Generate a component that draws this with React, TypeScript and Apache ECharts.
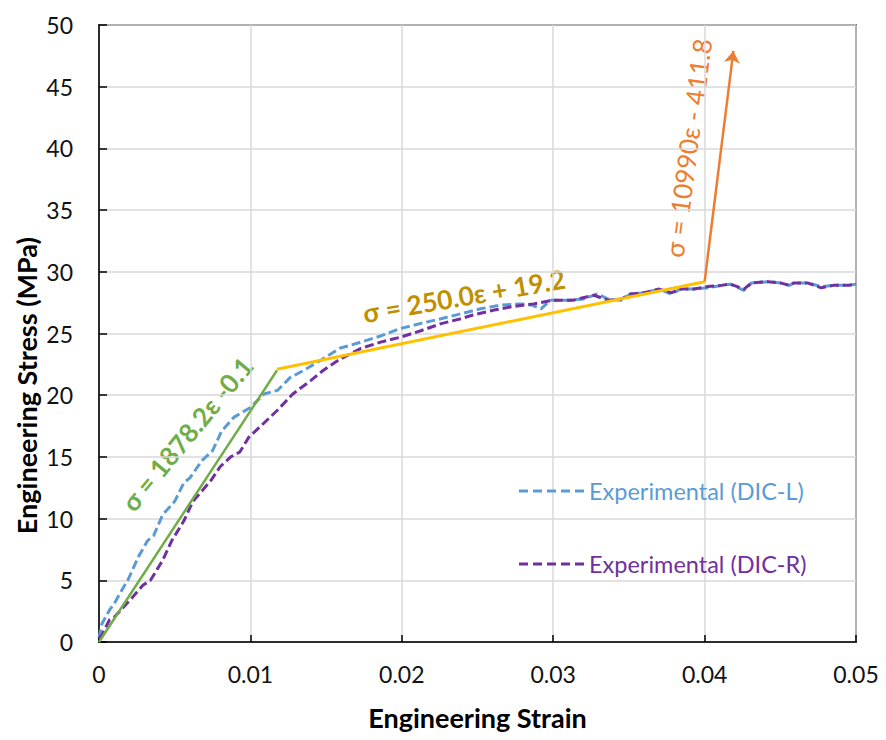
import React, { useEffect, useRef } from "react";
import * as echarts from "echarts";

const xTicks = [0, 0.01, 0.02, 0.03, 0.04, 0.05];
const yTicks = [0, 5, 10, 15, 20, 25, 30, 35, 40, 45, 50];

const dicL: number[][] = [
  [0, 0.3], [0.0002, 1.5], [0.0007, 2.6], [0.001, 3.1], [0.0016, 4.4], [0.0019, 5.0], [0.0026, 6.9],
  [0.0032, 8.2], [0.0036, 8.6], [0.0042, 10.3], [0.005, 11.4], [0.0056, 12.9], [0.006, 13.3],
  [0.0068, 14.7], [0.0075, 15.5], [0.0081, 17.1], [0.0089, 18.2], [0.01, 19.0], [0.0109, 20.1],
  [0.0118, 20.4], [0.0126, 21.4], [0.0135, 22.0], [0.0146, 22.8], [0.0159, 23.8], [0.0173, 24.3],
  [0.0186, 24.8], [0.0199, 25.4], [0.0212, 25.8], [0.0226, 26.2], [0.0239, 26.6], [0.0252, 27.0],
  [0.0265, 27.3], [0.0278, 27.4], [0.0286, 27.3], [0.0292, 27.0], [0.0298, 27.7], [0.031, 27.7],
  [0.032, 27.8], [0.0329, 28.2], [0.0336, 27.8], [0.0345, 27.7], [0.0351, 28.2], [0.036, 28.3],
  [0.037, 28.6], [0.0378, 28.2], [0.0384, 28.6], [0.0393, 28.6], [0.0402, 28.7], [0.0411, 28.9],
  [0.0417, 29.0], [0.0426, 28.5], [0.0431, 29.1], [0.0442, 29.2], [0.045, 29.1], [0.0456, 28.9],
  [0.0459, 29.1], [0.0468, 29.1], [0.0477, 28.8], [0.0485, 28.9], [0.0495, 28.9], [0.05, 29.0],
];

const dicR: number[][] = [
  [0, 0.3], [0.0002, 0.6], [0.0007, 1.8], [0.001, 2.0], [0.0016, 2.8], [0.0022, 3.6], [0.0029, 4.6],
  [0.0034, 5.0], [0.0042, 6.6], [0.0048, 8.2], [0.0056, 9.8], [0.0062, 11.4], [0.0067, 12.1],
  [0.0074, 13.1], [0.008, 14.2], [0.0087, 15.0], [0.0093, 15.4], [0.0099, 16.6], [0.0106, 17.4],
  [0.0118, 18.8], [0.0128, 20.1], [0.014, 21.2], [0.0148, 22.0], [0.0159, 22.9], [0.0173, 23.8],
  [0.0186, 24.3], [0.0199, 24.7], [0.0212, 25.2], [0.0226, 25.8], [0.0239, 26.2], [0.0247, 26.5],
  [0.0261, 26.9], [0.0274, 27.2], [0.0287, 27.4], [0.03, 27.7], [0.0313, 27.7], [0.0327, 28.1],
  [0.0336, 27.7], [0.0345, 27.8], [0.0351, 28.2], [0.036, 28.3], [0.037, 28.6], [0.0378, 28.3],
  [0.0384, 28.6], [0.0393, 28.6], [0.0402, 28.8], [0.0411, 28.9], [0.0417, 29.0], [0.0426, 28.6],
  [0.0431, 29.1], [0.0442, 29.2], [0.045, 29.1], [0.0456, 28.9], [0.0459, 29.1], [0.0468, 29.1],
  [0.0477, 28.7], [0.0485, 28.9], [0.0495, 28.9], [0.05, 29.0],
];

const fitElastic: number[][] = [[0, 0], [0.01175, 22.0]];
const fitPlastic: number[][] = [[0.01175, 22.1], [0.04, 29.2]];
const fitFracture: number[][] = [[0.04, 29.2], [0.0419, 47.9]];

const seriesNames = ["Experimental (DIC-L)", "Experimental (DIC-R)"];
const eqElastic = "σ = 1878.2ε -0.1";
const eqPlastic = "σ = 250.0ε + 19.2";
const eqFracture = "σ = 10990ε - 411.8";

const FONT = "Lato, 'Open Sans', sans-serif";
const DASH_ICON =
  "path://M0 0h9v3h-9z M14 0h9v3h-9z M28 0h9v3h-9z M42 0h9v3h-9z M56 0h9v3h-9z";

export default function App() {
  const ref = useRef<HTMLDivElement>(null);
  useEffect(() => {
    if (!ref.current) return;
    const chart = echarts.init(ref.current, undefined, { renderer: "svg" });
    const deg = Math.PI / 180;
    chart.setOption({
      animation: false,
      backgroundColor: "#fff",
      grid: {
        left: 99, right: 30, top: 25, bottom: 98,
        show: true, borderColor: "#000", borderWidth: 1.5,
      },
      legend: [
        {
          data: [{ name: seriesNames[0], icon: DASH_ICON, textStyle: { color: "#5B9BD5" } }],
          left: 519, top: 479, padding: 0, itemWidth: 65, itemHeight: 3,
          textStyle: { fontFamily: FONT, fontSize: 23.5 },
        },
        {
          data: [{ name: seriesNames[1], icon: DASH_ICON, textStyle: { color: "#7030A0" } }],
          left: 519, top: 552, padding: 0, itemWidth: 65, itemHeight: 3,
          textStyle: { fontFamily: FONT, fontSize: 23.5 },
        },
      ],
      xAxis: {
        type: "value", min: xTicks[0], max: xTicks[xTicks.length - 1], interval: 0.01,
        name: "Engineering Strain", nameLocation: "middle", nameGap: 62,
        nameTextStyle: { fontFamily: FONT, fontSize: 27, fontWeight: "bold", color: "#000" },
        axisLine: { show: true, lineStyle: { color: "#000", width: 1.5 } },
        axisTick: { show: true, inside: true, length: 7, lineStyle: { color: "#000", width: 1.5 } },
        axisLabel: {
          fontFamily: FONT, fontSize: 23, color: "#111", margin: 20,
          formatter: (v: number) => (v === 0 ? "0" : String(Number(v.toFixed(3)))),
        },
        splitLine: { show: true, lineStyle: { color: "#D9D9D9", width: 1.5 } },
      },
      yAxis: {
        type: "value", min: yTicks[0], max: yTicks[yTicks.length - 1], interval: 5,
        axisLine: { show: true, lineStyle: { color: "#000", width: 1.5 } },
        axisTick: { show: true, inside: true, length: 8, lineStyle: { color: "#000", width: 1.5 } },
        axisLabel: { fontFamily: FONT, fontSize: 23, color: "#111", margin: 26 },
        splitLine: { show: true, lineStyle: { color: "#D9D9D9", width: 1.5 } },
      },
      graphic: [
        {
          type: "text", x: 26, y: 237, rotation: 90 * deg,
          style: {
            text: "Engineering Stress (MPa)", fill: "#000",
            font: `bold 27px ${FONT}`, textAlign: "right", textVerticalAlign: "middle",
            align: "right", verticalAlign: "middle",
          },
        },
        {
          type: "text", x: 187, y: 434, rotation: 50.5 * deg,
          style: {
            text: eqElastic, fill: "#70AD47",
            font: `bold 26px ${FONT}`, textAlign: "center", textVerticalAlign: "middle",
            align: "center", verticalAlign: "middle",
          },
        },
        {
          type: "text", x: 464, y: 296, rotation: 9.8 * deg,
          style: {
            text: eqPlastic, fill: "#BF9000",
            font: `bold 26.5px ${FONT}`, textAlign: "center", textVerticalAlign: "middle",
            align: "center", verticalAlign: "middle",
          },
        },
        {
          type: "text", x: 688, y: 148, rotation: 82.5 * deg,
          style: {
            text: eqFracture, fill: "#ED7D31",
            font: `26px ${FONT}`, textAlign: "center", textVerticalAlign: "middle",
            align: "center", verticalAlign: "middle",
          },
        },
      ],
      series: [
        {
          name: seriesNames[0], type: "line", data: dicL, symbol: "none",
          lineStyle: { color: "#5B9BD5", width: 3, type: [9, 4] },
          itemStyle: { color: "#5B9BD5" }, z: 3,
        },
        {
          name: seriesNames[1], type: "line", data: dicR, symbol: "none",
          lineStyle: { color: "#7030A0", width: 3, type: [9, 4] },
          itemStyle: { color: "#7030A0" }, z: 4,
        },
        {
          name: "fitElastic", type: "line", data: fitElastic, symbol: "none",
          lineStyle: { color: "#70AD47", width: 2.5 }, z: 5,
        },
        {
          name: "fitPlastic", type: "line", data: fitPlastic, symbol: "none",
          lineStyle: { color: "#FFC000", width: 3 }, z: 5,
        },
        {
          name: "fitFracture", type: "lines", coordinateSystem: "cartesian2d",
          data: [{ coords: fitFracture }],
          symbol: ["none", "arrow"], symbolSize: 12,
          lineStyle: { color: "#ED7D31", width: 2.5, opacity: 1 }, z: 5,
        },
      ],
    });
    return () => chart.dispose();
  }, []);
  return (
    <div
      ref={ref}
      style={{ position: "absolute", left: 0, top: 0, width: 886, height: 740, background: "#fff" }}
    />
  );
}
